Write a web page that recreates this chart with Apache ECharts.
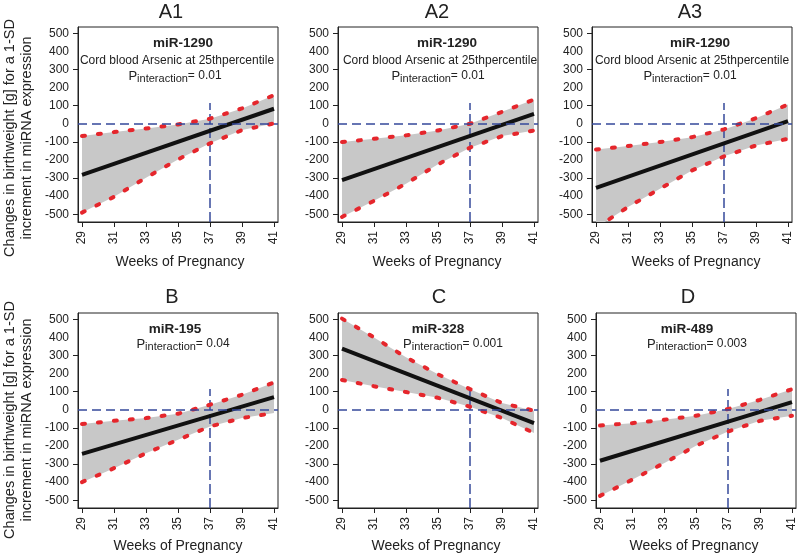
<!DOCTYPE html>
<html>
<head>
<meta charset="utf-8">
<script src="https://cdn.jsdelivr.net/npm/echarts@6/dist/echarts.min.js"></script>
<style>
html,body{margin:0;padding:0;background:#fff;}
#chart{width:800px;height:555px;}
</style>
</head>
<body>
<div id="chart"></div>
<script>
// ---------------- data ----------------
const weeks = [29, 31, 33, 35, 37, 39, 41];
const estWeeks = [29, 41];
const xTicks = [29, 31, 33, 35, 37, 39, 41];
const yLabelTicks = [-500, -400, -300, -200, -100, 0, 100, 200, 300, 400, 500];
const yTickMarks = [-500, -300, -100, 100, 300, 500];

const panelTitles = ['A1', 'A2', 'A3', 'B', 'C', 'D'];
const mirNames = ['miR-1290', 'miR-1290', 'miR-1290', 'miR-195', 'miR-328', 'miR-489'];
const subtitles = ['Cord blood Arsenic at 25thpercentile', 'Cord blood Arsenic at 25thpercentile', 'Cord blood Arsenic at 25thpercentile', '', '', ''];
const pValues = ['0.01', '0.01', '0.01', '0.04', '0.001', '0.003'];

const estA1 = [-283, 83];
const upperA1 = [-68, -46, -26, -4, 28, 85, 158];
const lowerA1 = [-491, -404, -298, -197, -108, -35, 2];

const estA2 = [-312, 55];
const upperA2 = [-101, -83, -64, -37, 0, 66, 134];
const lowerA2 = [-515, -426, -331, -224, -132, -68, -37];

const estA3 = [-354, 15];
const upperA3 = [-142, -123, -101, -74, -31, 31, 107];
const lowerA3 = [-575, -460, -359, -258, -180, -120, -83];

const estB = [-244, 70];
const upperB = [-79, -61, -46, -22, 28, 83, 151];
const lowerB = [-400, -323, -240, -166, -92, -46, -18];

const estC = [338, -74];
const upperC = [504, 400, 290, 196, 114, 37, -5];
const lowerC = [165, 130, 98, 66, 17, -46, -128];

const estD = [-282, 42];
const upperD = [-87, -74, -55, -33, 4, 55, 114];
const lowerD = [-476, -387, -295, -199, -120, -61, -33];

const refWeek = 37;
const refTop = 115;
const refZero = 0;

const estimates = [estA1, estA2, estA3, estB, estC, estD];
const uppers = [upperA1, upperA2, upperA3, upperB, upperC, upperD];
const lowers = [lowerA1, lowerA2, lowerA3, lowerB, lowerC, lowerD];

// ---------------- layout / style ----------------
const FONT = "'Liberation Sans', Arial, sans-serif";
const X_MIN = 28.75, X_MAX = 41.25, Y_MIN = -543, Y_MAX = 535;
const boxes = [
  {left: 78, top: 27}, {left: 338, top: 27}, {left: 592, top: 27},
  {left: 78, top: 313}, {left: 338, top: 313}, {left: 596, top: 313}
];
const BOX_W = 200, BOX_H = 195;
const RED = '#e5262c', BLUE = '#34489a', GRAY = '#c8c8c8', INK = '#222';

const grids = [], xAxes = [], yAxes = [], series = [], graphics = [];

boxes.forEach((b, i) => {
  grids.push({left: b.left, top: b.top, width: BOX_W, height: BOX_H, show: true,
    borderColor: INK, borderWidth: 1, backgroundColor: 'transparent'});
  xAxes.push({
    type: 'value', gridIndex: i, min: X_MIN, max: X_MAX,
    axisLine: {show: true, onZero: false, lineStyle: {color: INK, width: 1}},
    axisTick: {show: true, customValues: xTicks, length: 5, lineStyle: {color: INK}},
    axisLabel: {show: true, customValues: xTicks, rotate: 90, margin: 9, fontSize: 12, color: INK, fontFamily: FONT},
    splitLine: {show: false}
  });
  yAxes.push({
    type: 'value', gridIndex: i, min: Y_MIN, max: Y_MAX,
    axisLine: {show: true, onZero: false, lineStyle: {color: INK, width: 1}},
    axisTick: {show: true, customValues: yTickMarks, length: 5, lineStyle: {color: INK}},
    axisLabel: {show: true, customValues: yLabelTicks, margin: 9, fontSize: 12, color: INK, fontFamily: FONT},
    splitLine: {show: false}
  });

  const up = uppers[i], lo = lowers[i], est = estimates[i];
  // confidence band polygon (upper forward, lower backward) through the axes' scales
  series.push({
    type: 'custom', xAxisIndex: i, yAxisIndex: i, silent: true, z: 1,
    data: weeks.map((w, k) => [w, lo[k], up[k]]),
    encode: {x: 0, y: [1, 2]},
    renderItem: function (params, api) {
      if (params.dataIndex !== 0) return null;
      const pts = [];
      for (let k = 0; k < weeks.length; k++) pts.push(api.coord([weeks[k], up[k]]));
      for (let k = weeks.length - 1; k >= 0; k--) pts.push(api.coord([weeks[k], lo[k]]));
      const cs = params.coordSys;
      return {
        type: 'polygon', shape: {points: pts}, style: {fill: GRAY, stroke: null},
        clipPath: {type: 'rect', shape: {x: cs.x, y: cs.y, width: cs.width, height: cs.height}}
      };
    }
  });
  series.push({
    type: 'line', xAxisIndex: i, yAxisIndex: i,
    data: [[refWeek, Y_MIN], [refWeek, refTop]], symbol: 'none', silent: true,
    lineStyle: {color: BLUE, width: 1.5, type: [10, 4]}, z: 2,
    markLine: {silent: true, symbol: ['none', 'none'], label: {show: false},
      lineStyle: {color: BLUE, width: 1.5, type: [9, 5]},
      data: [{yAxis: refZero}]}
  });
  [up, lo].forEach(arr => {
    series.push({
      type: 'line', xAxisIndex: i, yAxisIndex: i,
      data: weeks.map((w, k) => [w, arr[k]]), symbol: 'none', silent: true,
      lineStyle: {color: RED, width: 4, type: [3, 13], cap: 'round'}, z: 3
    });
  });
  series.push({
    type: 'line', xAxisIndex: i, yAxisIndex: i,
    data: estWeeks.map((w, k) => [w, est[k]]), symbol: 'none', silent: true,
    lineStyle: {color: '#111', width: 4}, z: 4
  });
});

// ---------------- texts ----------------
const titlePos = [[171, 12], [437, 12], [690, 12], [172, 297], [439, 297], [688, 297]];
const mirPos = [[183, 43], [447, 43], [700, 43], [175, 329], [438, 329], [687, 329]];
const subPos = [[177, 61], [440, 61], [692, 61], null, null, null];
const pPos = [[175, 77], [438, 77], [690, 77], [183, 345], [453, 345], [697, 345]];
const weeksPos = [[180, 262], [437, 262], [696, 262], [178, 546], [436, 546], [694, 546]];

function txt(x, y, text, size, extra) {
  return Object.assign({type: 'text', x: x, y: y, silent: true, z: 10,
    style: Object.assign({text: text, fontSize: size, fontFamily: FONT, fill: INK,
      textAlign: 'center', textVerticalAlign: 'middle'}, extra || {})});
}

for (let i = 0; i < 6; i++) {
  graphics.push(txt(titlePos[i][0], titlePos[i][1], panelTitles[i], 20));
  graphics.push(txt(mirPos[i][0], mirPos[i][1], mirNames[i], 13.5, {fontWeight: 'bold'}));
  if (subtitles[i]) graphics.push(txt(subPos[i][0], subPos[i][1], subtitles[i], 12));
  graphics.push(txt(pPos[i][0], pPos[i][1], '{p|P}{s|interaction}{v|= ' + pValues[i] + '}', 13, {
    rich: {
      p: {fontSize: 13, fontFamily: FONT, fill: INK, lineHeight: 14, verticalAlign: 'top'},
      s: {fontSize: 11, fontFamily: FONT, fill: INK, lineHeight: 12, verticalAlign: 'bottom', padding: [6, 0, 0, 0]},
      v: {fontSize: 12, fontFamily: FONT, fill: INK, lineHeight: 14, verticalAlign: 'top'}
    }
  }));
  graphics.push(txt(weeksPos[i][0], weeksPos[i][1], 'Weeks of Pregnancy', 14));
}
const yLabel1 = 'Changes in birthweight [g] for a 1-SD';
const yLabel2 = 'increment in miRNA expression';
[[138], [420]].forEach(([cy]) => {
  graphics.push(Object.assign(txt(10, cy, yLabel1, 14.5), {rotation: Math.PI / 2}));
  graphics.push(Object.assign(txt(27, cy, yLabel2, 14.5), {rotation: Math.PI / 2}));
});

const chart = echarts.init(document.getElementById('chart'), null, {renderer: 'canvas'});
chart.setOption({
  animation: false,
  backgroundColor: '#fff',
  grid: grids, xAxis: xAxes, yAxis: yAxes, series: series, graphic: graphics
});
</script>
</body>
</html>
